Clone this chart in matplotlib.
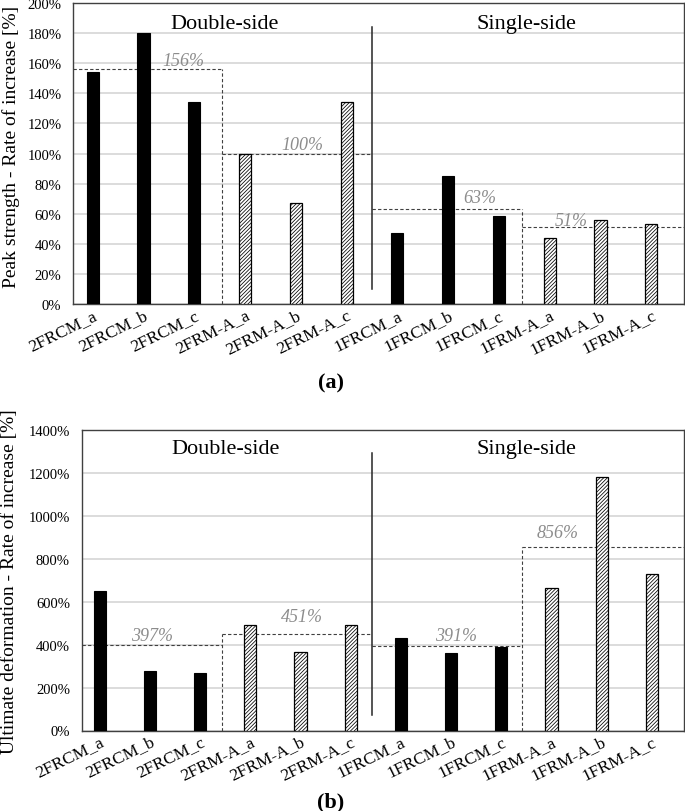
import matplotlib.pyplot as plt

plt.rcParams['font.family'] = ['Liberation Serif', 'DejaVu Serif']
plt.rcParams['hatch.linewidth'] = 0.55

specimens = ['2FRCM_a', '2FRCM_b', '2FRCM_c', '2FRM-A_a', '2FRM-A_b', '2FRM-A_c',
             '1FRCM_a', '1FRCM_b', '1FRCM_c', '1FRM-A_a', '1FRM-A_b', '1FRM-A_c']
hatched = [False, False, False, True, True, True,
           False, False, False, True, True, True]

# (a) peak strength, rate of increase [%]
peak_strength = [154, 180, 134, 99.5, 67, 134, 47, 85, 58.5, 44, 56, 53]
peak_means = [156, 100, 63, 51]

# (b) ultimate deformation, rate of increase [%]
ult_deformation = [647, 277, 269, 493, 365, 493, 429, 359, 389, 663, 1181, 728]
ult_means = [397, 451, 391, 856]

GRAY_TXT = '#8c8c8c'


def draw_panel(ax, values, means, ymax, ystep, xlim, splits, solid_span,
               mean_pos, side_y, ylabel, label_xy):
    for i, v in enumerate(values):
        if hatched[i]:
            ax.bar(i, v, width=0.24, color='white', edgecolor='black',
                   hatch='/////////', linewidth=0.9, zorder=3)
        else:
            ax.bar(i, v, width=0.24, color='black', edgecolor='black',
                   linewidth=0.8, zorder=3)

    ax.set_xlim(*xlim)
    ax.set_ylim(0, ymax)
    ticks = list(range(0, ymax + 1, ystep))
    ax.set_yticks(ticks)
    ax.set_yticklabels(['%d%%' % t for t in ticks], fontsize=10.5)
    ax.tick_params(axis='y', length=0, pad=8.5)
    ax.tick_params(axis='x', length=0, pad=2)
    ax.set_xticks(range(len(specimens)))
    ax.set_xticklabels(specimens, fontsize=12.5, rotation=26, ha='right',
                       va='top', rotation_mode='anchor')
    ax.yaxis.grid(True, color='#d9d9d9', linewidth=1.3)
    ax.set_axisbelow(True)
    for s in ax.spines.values():
        s.set_color('#404040')
        s.set_linewidth(1.0)

    # group averages (dashed)
    edges = [xlim[0], splits[0], splits[1], splits[2], xlim[1]]
    dash = dict(color='#404040', linewidth=0.8, linestyle=(0, (3, 2)), zorder=2)
    for g, m in enumerate(means):
        ax.plot([edges[g], edges[g + 1]], [m, m], **dash)
    ax.plot([splits[0], splits[0]], [0, max(means[0], means[1])], **dash)
    ax.plot([splits[2], splits[2]], [0, max(means[2], means[3])], **dash)
    for m, (tx, ty) in zip(means, mean_pos):
        ax.text(tx, ty, '%d%%' % m, color=GRAY_TXT, fontsize=13,
                style='italic', ha='center', va='center')

    # double / single side separator
    ax.plot([splits[1], splits[1]], solid_span, color='#262626',
            linewidth=1.1, zorder=4)
    ax.text(side_y[0], side_y[2], 'Double-side', fontsize=16,
            ha='center', va='center')
    ax.text(side_y[1], side_y[2], 'Single-side', fontsize=16,
            ha='center', va='center')

    fig.text(label_xy[0], label_xy[1], ylabel, rotation=90, fontsize=14,
             ha='center', va='center')


fig = plt.figure(figsize=(6.85, 8.12), dpi=100)

ax1 = fig.add_axes([73.3 / 685, 1 - 305 / 812, 610.7 / 685, 301 / 812])
draw_panel(ax1, peak_strength, peak_means, 200, 20,
           xlim=(-0.382, 11.644), splits=(2.54, 5.5, 8.45),
           solid_span=(10, 184),
           mean_pos=[(1.78, 162), (4.12, 106), (7.63, 70.6), (9.43, 55.3)],
           side_y=(2.6, 8.55, 186.7),
           ylabel='Peak strength - Rate of increase [%]',
           label_xy=(11 / 685, 1 - 147 / 812))

ax2 = fig.add_axes([81.7 / 685, 1 - 731.5 / 812, 602.3 / 685, 300.8 / 812])
draw_panel(ax2, ult_deformation, ult_means, 1400, 200,
           xlim=(-0.359, 11.64), splits=(2.43, 5.42, 8.41),
           solid_span=(73, 1293),
           mean_pos=[(1.04, 440), (4.02, 529), (7.10, 440), (9.12, 921)],
           side_y=(2.5, 8.5, 1312),
           ylabel='Ultimate deformation - Rate of increase [%]',
           label_xy=(10 / 685, 1 - 582 / 812))

fig.text(331 / 685, 1 - 383 / 812, '(a)', fontsize=16, fontweight='bold',
         ha='center', va='center')
fig.text(331 / 685, 1 - 802 / 812, '(b)', fontsize=16, fontweight='bold',
         ha='center', va='center')

fig.savefig('out.png', dpi=100)
